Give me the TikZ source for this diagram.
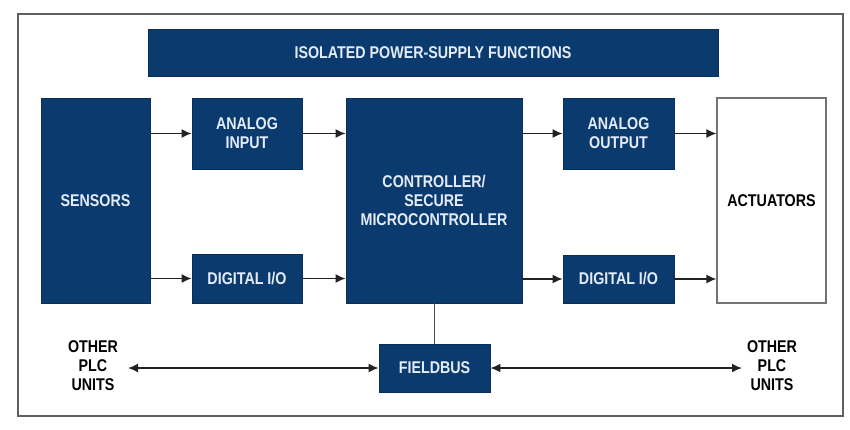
\documentclass[tikz,border=0pt]{standalone}
\usepackage{fontspec}
\setmainfont[FakeStretch=0.84]{Liberation Sans}
\usetikzlibrary{arrows.meta}
\definecolor{navy}{HTML}{0B3A6E}
\definecolor{boxtext}{HTML}{E3ECF8}
\definecolor{linegray}{HTML}{222222}
\tikzset{
  blk/.style={draw=navy!80!black, fill=navy, text=boxtext, font=\bfseries\fontsize{17}{19}\selectfont, align=center, inner sep=0pt, line width=0.8pt},
  wblk/.style={draw=gray!90!black, fill=white, text=black, font=\bfseries\fontsize{17}{19}\selectfont, align=center, inner sep=0pt, line width=1.1pt},
  lbl/.style={text=black, font=\bfseries\fontsize{17}{19}\selectfont, align=center, inner sep=0pt},
  arr/.style={draw=linegray, line width=1.6pt, -{Latex[length=10pt,width=9pt]}},
  darr/.style={draw=linegray, line width=1.6pt, {Latex[length=10pt,width=9pt]}-{Latex[length=10pt,width=9pt]}},
  ln/.style={draw=linegray!80, line width=1.6pt}
}
\begin{document}
\begin{tikzpicture}[x=1pt,y=-1pt]
\useasboundingbox (0,0) rectangle (850,429);
\fill[white] (0,0) rectangle (850,429);
\draw[draw=gray!75!black, line width=1.8pt] (18,14) rectangle (843,416);

\node[blk, minimum width=570pt, minimum height=47pt] (psu) at (433,52.5) {ISOLATED POWER-SUPPLY FUNCTIONS};
\node[blk, minimum width=109pt, minimum height=205pt] (sens) at (95.5,200.5) {SENSORS};
\node[blk, minimum width=110pt, minimum height=71pt] (ain) at (247,133.5) {ANALOG\\INPUT};
\node[blk, minimum width=110pt, minimum height=49pt] (din) at (247,278.5) {DIGITAL I/O};
\node[blk, minimum width=176pt, minimum height=205pt] (ctrl) at (434,200.5) {CONTROLLER/\\SECURE\\MICROCONTROLLER};
\node[blk, minimum width=111pt, minimum height=71pt] (aout) at (618.5,133.5) {ANALOG\\OUTPUT};
\node[blk, minimum width=111pt, minimum height=48pt] (dout) at (618.5,279) {DIGITAL I/O};
\node[wblk, minimum width=109pt, minimum height=205pt] (act) at (771.5,200.5) {ACTUATORS};
\node[blk, minimum width=111pt, minimum height=48pt] (fb) at (434.5,368) {FIELDBUS};

\node[lbl] (lplc) at (93,366) {OTHER\\PLC\\UNITS};
\node[lbl] (rplc) at (772,366) {OTHER\\PLC\\UNITS};
\coordinate (lend) at (128,368);
\coordinate (rend) at (742,368);

\draw[arr] (sens.east |- ain.west) -- (ain.west);
\draw[arr] (sens.east |- din.west) -- (din.west);
\draw[arr] (ain.east) -- (ctrl.west |- ain.east);
\draw[arr] (din.east) -- (ctrl.west |- din.east);
\draw[arr] (ctrl.east |- aout.west) -- (aout.west);
\draw[arr] (ctrl.east |- dout.west) -- (dout.west);
\draw[arr] (aout.east) -- (act.west |- aout.east);
\draw[arr] (dout.east) -- (act.west |- dout.east);
\draw[ln] (fb.north |- ctrl.south) -- (fb.north);
\draw[darr] (lend) -- (fb.west);
\draw[darr] (fb.east) -- (rend);
\end{tikzpicture}
\end{document}
